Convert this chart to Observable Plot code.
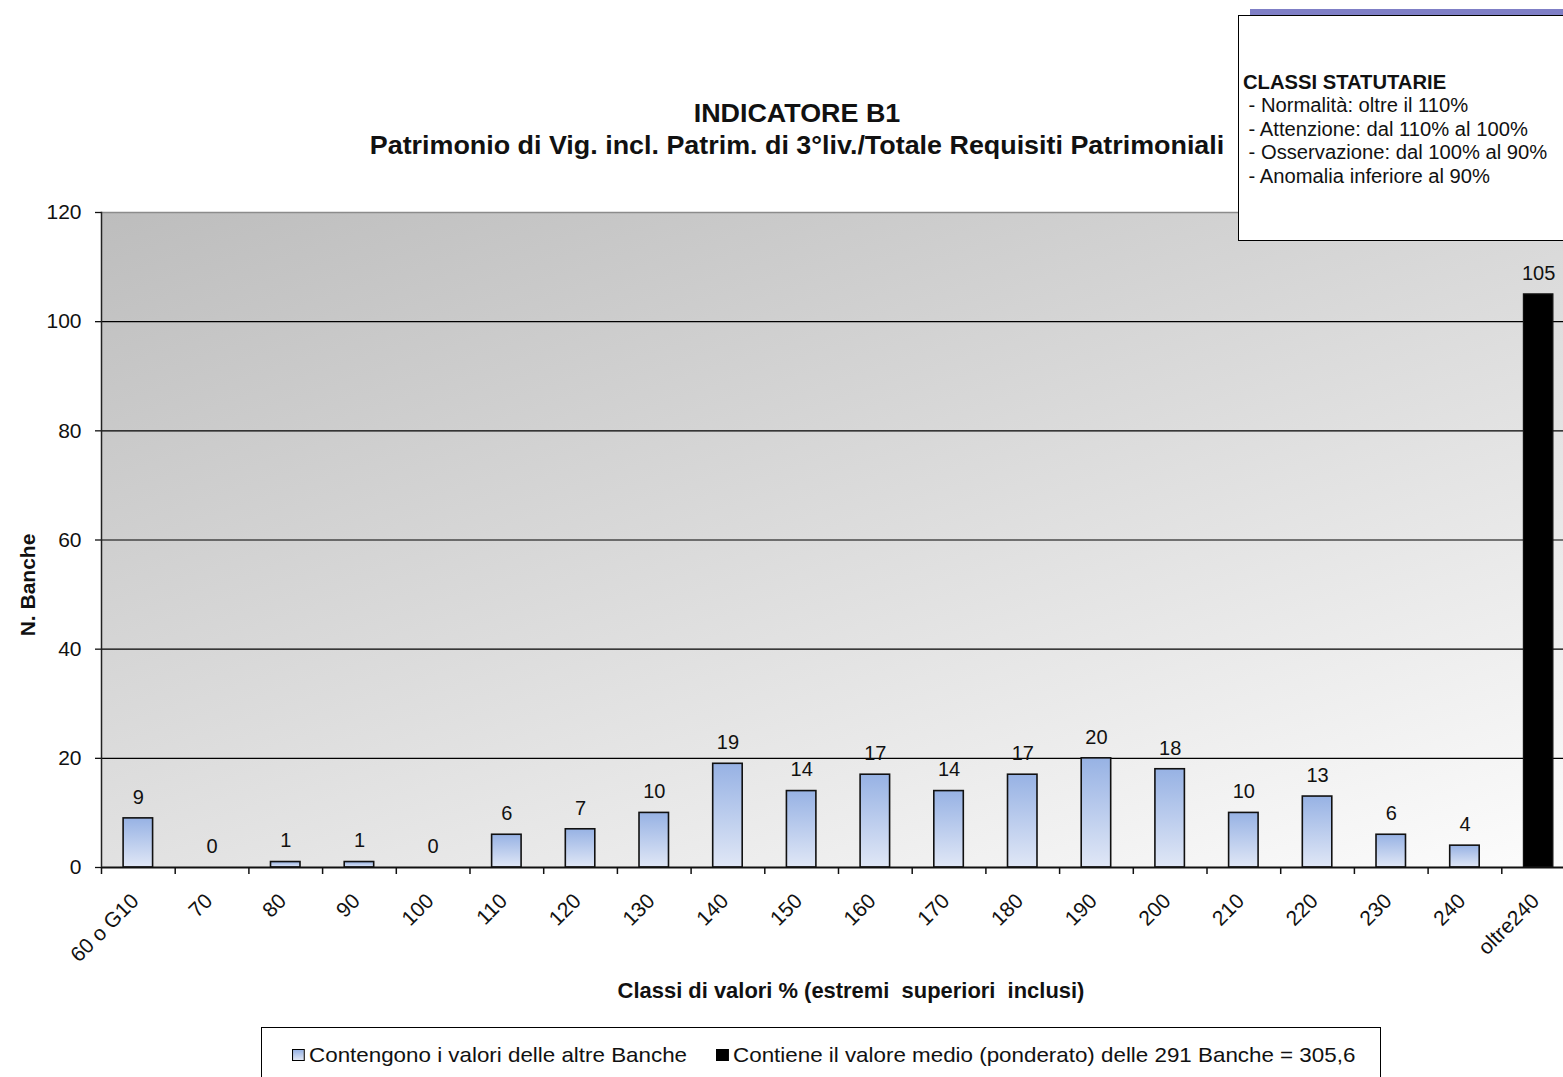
<!DOCTYPE html>
<html lang="it">
<head>
<meta charset="utf-8">
<script src="https://cdn.jsdelivr.net/npm/d3@7"></script>
<script src="https://cdn.jsdelivr.net/npm/@observablehq/plot@0.6"></script>
<style>
  html, body { margin: 0; padding: 0; background: #fff; }
  body { position: relative; width: 1563px; height: 1077px; overflow: hidden;
         font-family: "Liberation Sans", Arial, sans-serif; color: #111; }
  #chart { position: absolute; left: 0; top: 0; }
  .abs { position: absolute; white-space: nowrap; }
  #title { left: 0; width: 1594px; top: 97px; text-align: center; font-weight: bold;
           font-size: 25px; line-height: 32px; transform: scaleX(1.075); transform-origin: 797px 0; }
  #ytitle { left: 28px; top: 585px; font-weight: bold; font-size: 21px;
            transform: translate(-50%, -50%) rotate(-90deg); }
  #xtitle { left: 851px; top: 979px; transform: translateX(-50%) scaleX(1.02); font-weight: bold; font-size: 21.5px; }
  #classShadow { left: 1250px; top: 9px; width: 330px; height: 8px; background: #7f7fc6; }
  #classBox { left: 1238px; top: 15px; width: 340px; height: 226px; background: #fff;
              border: 1.5px solid #000; box-sizing: border-box; }
  #classText { left: 1243px; top: 71px; font-size: 20px; line-height: 23.4px;
               transform: scaleX(1.01); transform-origin: 0 0; }
  #classText b { font-weight: bold; }
  #legend { left: 261px; top: 1027px; width: 1120px; height: 80px; border: 1.5px solid #000;
            box-sizing: border-box; background: #fff; }
  .item { top: 1042px; font-size: 21px; line-height: 26px; display: flex; align-items: center;
          transform: scaleX(1.065); transform-origin: 0 0; }
  .sw { display: inline-block; width: 10px; height: 10px; margin-right: 4px; border: 1px solid #000; }
</style>
</head>
<body>
<script>
// Classes of values (upper bounds included) and number of banks per class
const classes = ["60 o G10", "70", "80", "90", "100", "110", "120", "130", "140", "150",
                 "160", "170", "180", "190", "200", "210", "220", "230", "240", "oltre240"];
const banks = [9, 0, 1, 1, 0, 6, 7, 10, 19, 14, 17, 14, 17, 20, 18, 10, 13, 6, 4, 105];
// The class that holds the weighted average of all banks
const averageClass = "oltre240";
const yTicks = [0, 20, 40, 60, 80, 100, 120];
const gridValues = [20, 40, 60, 80, 100];

const rows = classes.map((c, i) => ({cls: c, n: banks[i]}));
const others = rows.filter(d => d.cls !== averageClass);
const average = rows.filter(d => d.cls === averageClass);

const xRange = [101, 1575];
const step = (xRange[1] - xRange[0]) / classes.length;

const chart = Plot.plot({
  width: 1563,
  height: 1077,
  marginTop: 212,
  marginBottom: 210,
  marginLeft: 101,
  marginRight: 0,
  style: {fontFamily: "'Liberation Sans', Arial, sans-serif", color: "#111", background: "transparent", overflow: "visible"},
  x: {type: "band", domain: classes, range: xRange, paddingInner: 0.6, paddingOuter: 0.3, round: false},
  y: {domain: [0, 120]},
  marks: [
    Plot.frame({fill: "url(#plotBg)", stroke: "none"}),
    Plot.frame({anchor: "top", stroke: "#8c8c8c", strokeWidth: 1.5}),
    Plot.ruleY(gridValues, {stroke: "#000", strokeWidth: 1.2}),
    Plot.barY(others, {x: "cls", y: "n", fill: "url(#barFill)", stroke: "#111", strokeWidth: 1.6}),
    Plot.barY(average, {x: "cls", y: "n", fill: "#000", stroke: "#111", strokeWidth: 1.2}),
    Plot.ruleY([0], {stroke: "#111", strokeWidth: 1.8}),
    Plot.frame({anchor: "left", stroke: "#222", strokeWidth: 1.5}),
    Plot.text(rows, {x: "cls", y: "n", text: d => String(d.n), dy: -21, fontSize: 20, fill: "#111"}),
    Plot.axisY({ticks: yTicks, tickSize: 6, tickPadding: 14, fontSize: 21, label: null, stroke: "#111", strokeWidth: 1.3}),
    // tick marks sit on the class boundaries
    Plot.axisX({tickSize: 7, text: null, dx: -step / 2, stroke: "#111", strokeWidth: 1.5, label: null}),
    Plot.axisX({tickSize: 0, tickRotate: -45, tickPadding: 30, dx: -3, fontSize: 21, label: null})
  ]
});
chart.id = "chart";
document.body.appendChild(chart);

// Gradients used by the plot background and by the bars
const defs = d3.select(chart).insert("defs", ":first-child");
const bg = defs.append("linearGradient").attr("id", "plotBg")
  .attr("gradientUnits", "userSpaceOnUse")
  .attr("x1", 101).attr("y1", 212).attr("x2", 452).attr("y2", 1282);
bg.append("stop").attr("offset", "0%").attr("stop-color", "#bdbdbd");
bg.append("stop").attr("offset", "100%").attr("stop-color", "#ffffff");
const bar = defs.append("linearGradient").attr("id", "barFill")
  .attr("x1", 0).attr("y1", 0).attr("x2", 0).attr("y2", 1);
bar.append("stop").attr("offset", "0%").attr("stop-color", "#97b2e4");
bar.append("stop").attr("offset", "100%").attr("stop-color", "#e0e7f6");
</script>

<div id="title" class="abs">INDICATORE B1<br>Patrimonio di Vig. incl. Patrim. di 3°liv./Totale Requisiti Patrimoniali</div>
<div id="ytitle" class="abs">N. Banche</div>
<div id="xtitle" class="abs">Classi di valori % (estremi&nbsp; superiori&nbsp; inclusi)</div>

<div id="classShadow" class="abs"></div>
<div id="classBox" class="abs"></div>
<div id="classText" class="abs"><b>CLASSI STATUTARIE</b><br>&nbsp;- Normalità: oltre il 110%<br>&nbsp;- Attenzione: dal 110% al 100%<br>&nbsp;- Osservazione: dal 100% al 90%<br>&nbsp;- Anomalia inferiore al 90%</div>

<div id="legend" class="abs"></div>
<div class="abs item" style="left:292px"><span class="sw" style="background:linear-gradient(#97b2e4,#e0e7f6)"></span>Contengono i valori delle altre Banche</div>
<div class="abs item" style="left:716px"><span class="sw" style="background:#000"></span>Contiene il valore medio (ponderato) delle 291 Banche = 305,6</div>
</body>
</html>
